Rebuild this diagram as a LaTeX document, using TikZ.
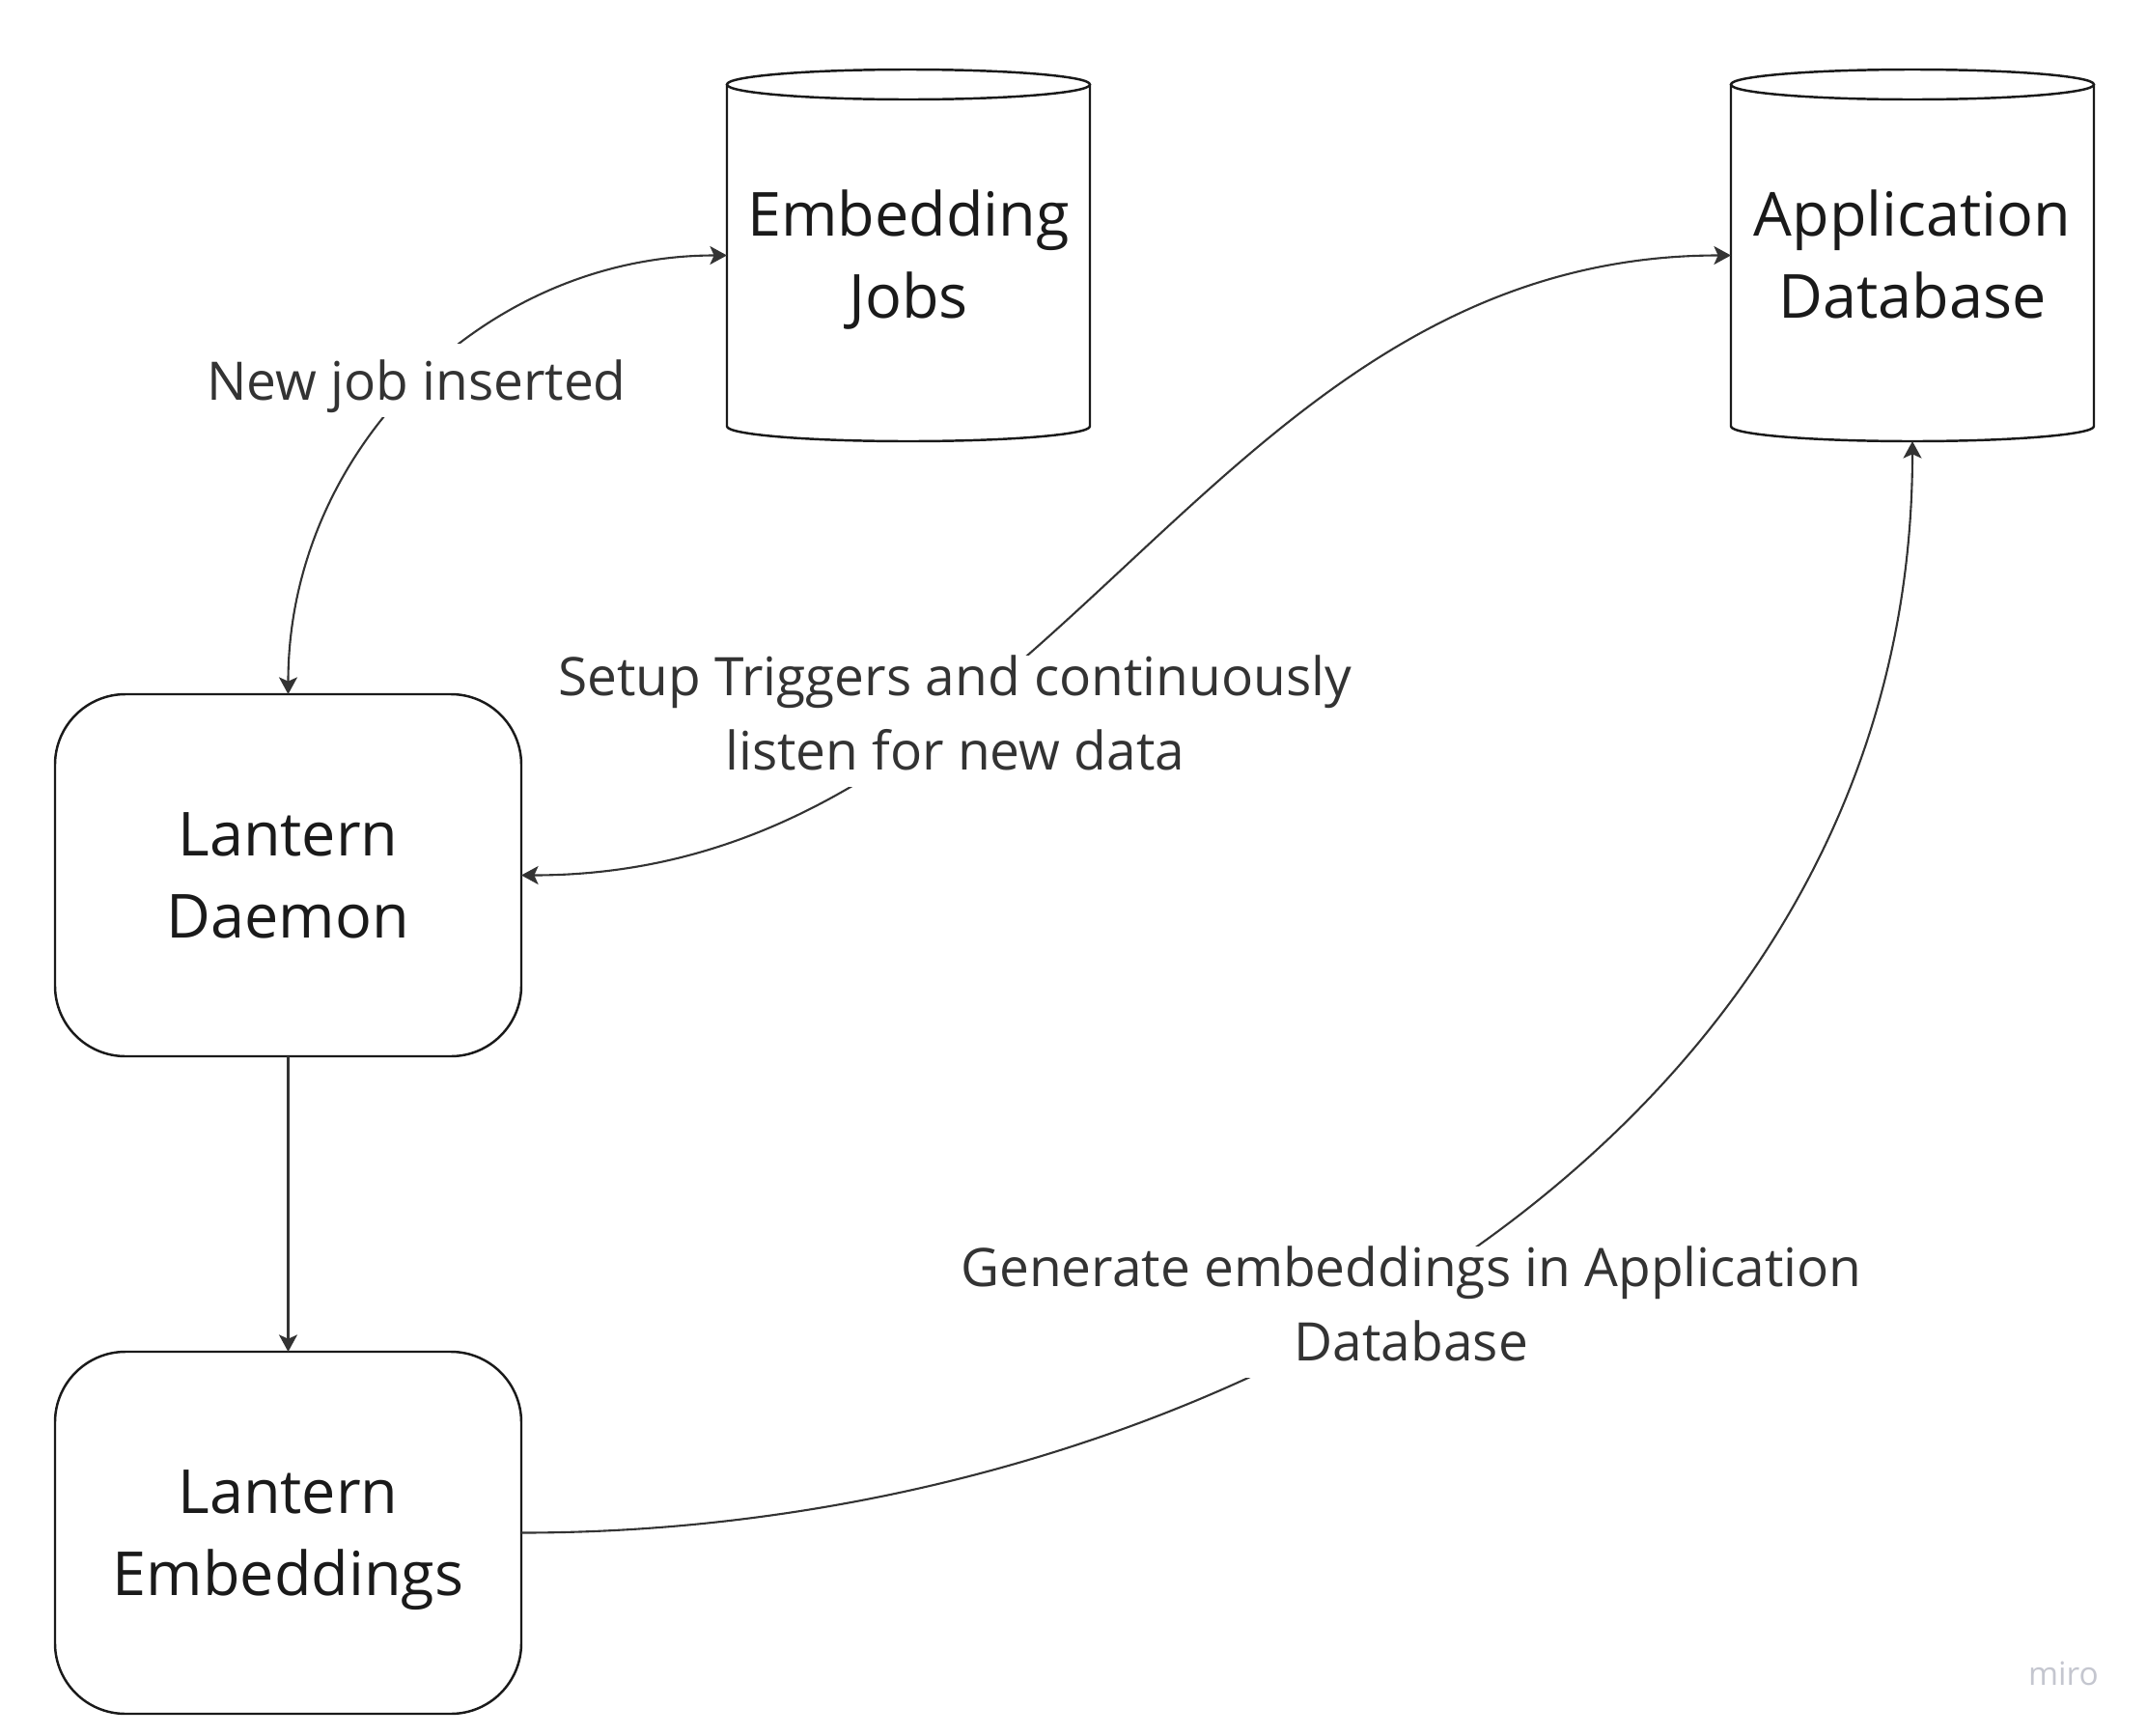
\documentclass[tikz,border=0pt]{standalone}
\usepackage{fontspec}
\setmainfont{Open Sans}
\usetikzlibrary{positioning, arrows.meta}

\definecolor{inkdark}{HTML}{1A1A1A}
\definecolor{inkgrey}{HTML}{333333}
\definecolor{mirogrey}{HTML}{C4C6CF}

\newcommand{\labelstrut}{\rule[-5pt]{0pt}{21.6pt}}

\begin{document}
\begin{tikzpicture}[
    boxnode/.style={rectangle, draw=inkdark, line width=0.7pt, rounded corners=0.73cm, minimum width=4.83cm, minimum height=3.75cm, outer sep=0pt, align=center, text=inkdark, font=\fontsize{17.9}{24.3}\selectfont, text height=37.1pt, text depth=0pt},
    dbnode/.style={rectangle, minimum width=3.76cm, minimum height=3.85cm, outer sep=0pt, align=center, text=inkdark, font=\fontsize{17.9}{24.3}\selectfont, text height=37.1pt, text depth=0pt},
    dbline/.style={draw=inkdark, line width=0.7pt},
    link/.style={draw=inkgrey, line width=0.6pt, -{Stealth[length=5pt, width=5.4pt, inset=1.2pt]}},
    duallink/.style={link, {Stealth[length=5pt, width=5.4pt, inset=1.2pt]}-{Stealth[length=5pt, width=5.4pt, inset=1.2pt]}},
    linklabel/.style={fill=white, inner xsep=3pt, inner ysep=0pt, align=center, text=inkgrey, font=\fontsize{15.65}{21.8}\selectfont, execute at begin node=\labelstrut, execute at end node=\labelstrut},
]
\path[use as bounding box, fill=white] (0,0) rectangle (22.24,-17.98);

% services
\node[boxnode] (daemon) at (2.985,-9.065) {Lantern\\Daemon};
\node[boxnode, below=3.06cm of daemon] (embed) {Lantern\\Embeddings};

% databases
\node[dbnode] (ejobs) at (9.41,-2.645) {Embedding\\Jobs};
\node[dbnode, right=6.64cm of ejobs] (appdb) {Application\\Database};
\foreach \db in {ejobs, appdb} {
  \draw[dbline] ([yshift=-0.155cm]\db.north west) -- ([yshift=0.155cm]\db.south west)
    arc[start angle=180, end angle=360, x radius=1.88cm, y radius=0.155cm]
    -- ([yshift=-0.155cm]\db.north east);
  \draw[dbline] ([yshift=-0.155cm]\db.north) ellipse[x radius=1.88cm, y radius=0.155cm];
}

% connectors
\draw[duallink] (daemon.north) to[out=90, in=180] node[linklabel, yshift=1pt]{New job inserted} (ejobs.west);
\draw[duallink] (daemon.east) to[out=0, in=180] node[linklabel, pos=0.335, yshift=-2.4pt]{Setup Triggers and continuously\\listen for new data} (appdb.west);
\draw[link] (daemon.south) -- (embed.north);
\draw[link] (embed.east) to[out=0, in=270] node[linklabel, pos=0.46, yshift=-6.8pt]{Generate embeddings in Application\\Database} (appdb.south);

\node[text=mirogrey, font=\fontsize{9.5}{11}\selectfont] (miro) at (21.375,-17.335) {miro};
\end{tikzpicture}
\end{document}
